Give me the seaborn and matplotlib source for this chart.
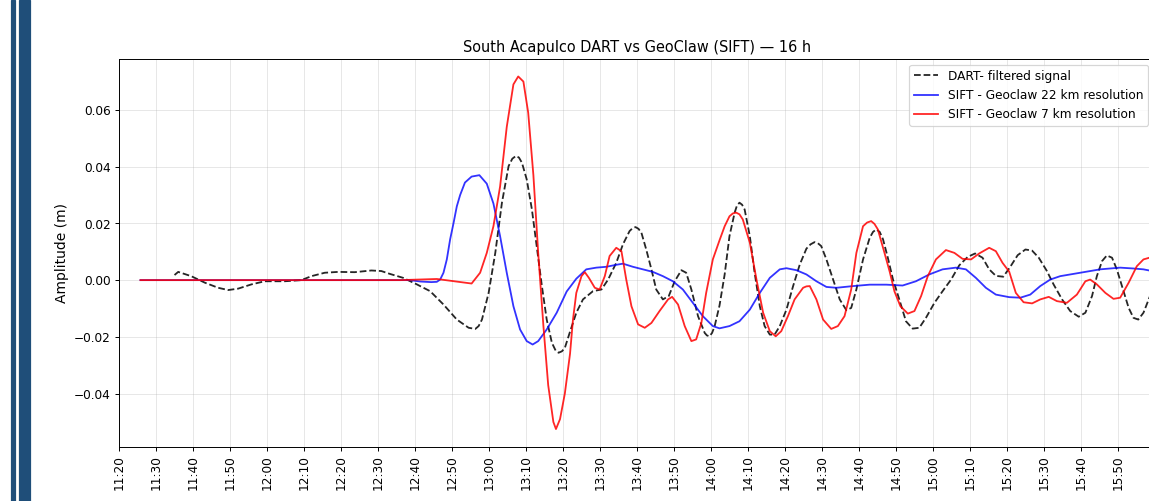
import pandas as pd
import seaborn as sns
import matplotlib.pyplot as plt
import matplotlib.dates as mdates
from matplotlib.patches import Rectangle

START = pd.Timestamp("2025-01-01 11:20")
END_MIN = 279.8  # just short of 16:00

# DART filtered signal (minutes after 11:20, amplitude m)
dart_min = [15.0, 16.0, 19.5, 23.2, 26.8, 29.5, 32.2, 35.8, 39.4, 44.8, 49.3, 52.0,
            55.6, 59.2, 63.7, 68.2, 70.9, 73.2, 76.8, 80.5, 84.1, 87.7, 91.3, 94.5,
            96.3, 97.2, 98.1, 99.9, 101.7, 103.5, 105.3, 106.3, 107.3, 108.1, 108.9,
            110.2, 111.6, 112.9, 114.3, 115.6, 117.0, 118.0, 118.8, 119.7, 120.5,
            121.8, 123.6, 125.4, 128.1, 130.4, 132.2, 134.4, 136.2, 138.0, 138.8,
            139.6, 140.4, 141.2, 142.5, 143.9, 145.2, 147.0, 148.6, 150.2, 152.0,
            153.3, 154.7, 156.5, 158.3, 158.9, 159.6, 160.3, 161.0, 162.3, 163.7,
            165.0, 166.4, 167.0, 167.7, 168.4, 169.1, 170.5, 171.8, 173.2, 174.5,
            175.9, 177.2, 178.6, 180.4, 182.2, 184.0, 185.8, 186.9, 188.0, 188.9,
            189.8, 191.2, 193.0, 194.8, 196.6, 197.9, 199.3, 201.1, 202.9, 203.8,
            204.7, 205.6, 206.5, 207.8, 209.2, 210.9, 212.7, 214.5, 216.3, 218.1,
            220.4, 222.6, 224.9, 227.1, 229.4, 231.4, 233.4, 235.2, 237.0, 239.0,
            240.8, 242.9, 245.0, 246.8, 248.6, 250.8, 252.6, 254.9, 257.1, 259.4,
            261.2, 263.0, 264.3, 265.7, 267.0, 268.4, 269.7, 271.1, 272.9, 274.2,
            275.5, 276.9, 278.5, 280.0]
dart_amp = [0.0018, 0.0029, 0.0014, -0.0009, -0.0027, -0.0035, -0.0030, -0.0015,
            -0.0004, -0.0004, 0.0000, 0.0014, 0.0026, 0.0029, 0.0028, 0.0034, 0.0032,
            0.0022, 0.0008, -0.0015, -0.0039, -0.0086, -0.0139, -0.0168, -0.0172,
            -0.0162, -0.0139, -0.0045, 0.0096, 0.0273, 0.0402, 0.0428, 0.0438, 0.0432,
            0.0414, 0.0355, 0.0249, 0.0120, -0.0021, -0.0139, -0.0221, -0.0248,
            -0.0256, -0.0251, -0.0239, -0.0186, -0.0115, -0.0068, -0.0039, -0.0033,
            0.0002, 0.0061, 0.0126, 0.0173, 0.0183, 0.0187, 0.0181, 0.0167, 0.0108,
            0.0038, -0.0033, -0.0068, -0.0056, -0.0004, 0.0035, 0.0026, -0.0033,
            -0.0127, -0.0186, -0.0195, -0.0198, -0.0186, -0.0162, -0.0090, 0.0020,
            0.0155, 0.0238, 0.0262, 0.0273, 0.0266, 0.0249, 0.0155, 0.0026, -0.0092,
            -0.0162, -0.0192, -0.0192, -0.0162, -0.0104, -0.0021, 0.0055, 0.0111,
            0.0126, 0.0134, 0.0130, 0.0120, 0.0073, 0.0002, -0.0068, -0.0106,
            -0.0098, -0.0033, 0.0073, 0.0149, 0.0170, 0.0179, 0.0170, 0.0144, 0.0079,
            0.0002, -0.0068, -0.0145, -0.0171, -0.0168, -0.0133, -0.0080, -0.0039,
            0.0002, 0.0052, 0.0082, 0.0094, 0.0079, 0.0038, 0.0015, 0.0012, 0.0045,
            0.0088, 0.0108, 0.0104, 0.0079, 0.0032, -0.0015, -0.0068, -0.0109,
            -0.0129, -0.0115, -0.0056, 0.0014, 0.0067, 0.0087, 0.0079, 0.0038,
            -0.0021, -0.0098, -0.0133, -0.0139, -0.0115, -0.0062, -0.0010]

# SIFT GeoClaw 22 km
g22_min = [5.8, 76.0, 78.6, 81.5, 84.4, 85.9, 86.8, 87.7, 88.6, 89.5, 90.4, 91.3,
           92.2, 93.5, 95.3, 97.4, 99.4, 101.2, 103.0, 104.8, 106.6, 108.4, 110.2,
           111.8, 113.3, 115.6, 118.3, 121.0, 123.6, 126.3, 129.0, 131.7, 134.4,
           136.2, 138.9, 141.6, 144.3, 147.0, 149.7, 152.4, 155.1, 157.8, 160.5,
           162.3, 165.0, 167.7, 170.5, 173.2, 175.9, 178.6, 180.4, 183.1, 185.8,
           188.5, 191.2, 193.9, 198.4, 202.9, 207.4, 211.8, 215.4, 219.0, 222.6,
           226.2, 228.9, 231.6, 234.3, 237.0, 240.6, 243.6, 246.3, 249.0, 251.7,
           254.4, 257.1, 259.8, 262.5, 265.2, 267.9, 270.6, 274.2, 276.9, 280.0]
g22_amp = [0.0, 0.0, 0.0, -0.0005, -0.0007, -0.0006, 0.0002, 0.0026, 0.0073,
           0.0144, 0.0200, 0.0260, 0.0300, 0.0344, 0.0365, 0.0370, 0.0340, 0.0270,
           0.0155, 0.0026, -0.0092, -0.0174, -0.0215, -0.0227, -0.0215, -0.0174,
           -0.0115, -0.0040, 0.0005, 0.0038, 0.0044, 0.0047, 0.0054, 0.0058, 0.0047,
           0.0038, 0.0029, 0.0014, -0.0004, -0.0033, -0.0080, -0.0127, -0.0162,
           -0.0170, -0.0162, -0.0145, -0.0104, -0.0045, 0.0008, 0.0038, 0.0042,
           0.0035, 0.0020, -0.0004, -0.0024, -0.0027, -0.0021, -0.0016, -0.0016,
           -0.0019, -0.0004, 0.0020, 0.0038, 0.0044, 0.0038, 0.0008, -0.0027,
           -0.0051, -0.0060, -0.0062, -0.0051, -0.0021, 0.0002, 0.0014, 0.0020,
           0.0026, 0.0032, 0.0038, 0.0041, 0.0044, 0.0041, 0.0038, 0.0030]

# SIFT GeoClaw 7 km
g7_min = [5.8, 76.0, 85.9, 95.3, 97.6, 99.4, 101.2, 103.0, 104.8, 106.6, 107.9,
          109.3, 110.6, 112.0, 113.3, 114.7, 116.0, 117.4, 118.1, 119.2, 120.5,
          121.9, 122.7, 123.6, 125.0, 125.9, 127.0, 128.6, 129.9, 131.3, 132.6,
          134.4, 135.8, 137.1, 138.5, 140.3, 142.1, 143.9, 146.1, 148.4, 149.5,
          151.1, 152.9, 154.7, 156.0, 157.4, 158.7, 160.5, 162.3, 163.7, 165.0,
          165.9, 166.8, 167.7, 168.6, 170.5, 172.3, 174.1, 175.9, 177.5, 179.0,
          180.8, 182.6, 184.9, 185.8, 186.7, 188.5, 190.3, 192.5, 194.3, 196.1,
          197.9, 199.3, 201.1, 202.2, 203.3, 204.2, 205.1, 206.9, 208.3, 209.6,
          211.2, 213.2, 215.0, 216.8, 218.6, 220.8, 223.5, 225.8, 228.0, 230.3,
          232.5, 235.2, 237.0, 238.8, 240.6, 242.4, 244.5, 246.8, 249.0, 251.3,
          253.5, 256.2, 258.9, 261.2, 262.5, 264.3, 266.6, 268.8, 270.6, 272.9,
          275.1, 276.9, 278.5, 280.0]
g7_amp = [0.0, 0.0, 0.0004, -0.0012, 0.0026, 0.0096, 0.0190, 0.0330, 0.0540,
          0.0690, 0.0718, 0.0700, 0.0590, 0.0370, 0.0096, -0.0160, -0.0370, -0.0500,
          -0.0525, -0.0490, -0.0400, -0.0260, -0.0139, -0.0045, 0.0014, 0.0028,
          0.0008, -0.0027, -0.0033, 0.0014, 0.0085, 0.0114, 0.0102, 0.0002, -0.0092,
          -0.0156, -0.0168, -0.0151, -0.0109, -0.0068, -0.0059, -0.0086, -0.0162,
          -0.0215, -0.0209, -0.0151, -0.0045, 0.0073, 0.0140, 0.0190, 0.0225,
          0.0235, 0.0238, 0.0232, 0.0214, 0.0132, 0.0002, -0.0115, -0.0180,
          -0.0198, -0.0180, -0.0127, -0.0068, -0.0027, -0.0022, -0.0021, -0.0068,
          -0.0139, -0.0172, -0.0162, -0.0127, -0.0033, 0.0096, 0.0190, 0.0203,
          0.0208, 0.0198, 0.0179, 0.0096, 0.0030, -0.0040, -0.0092, -0.0118,
          -0.0109, -0.0056, 0.0014, 0.0073, 0.0106, 0.0096, 0.0075, 0.0073, 0.0094,
          0.0114, 0.0102, 0.0061, 0.0030, -0.0045, -0.0078, -0.0082, -0.0068,
          -0.0059, -0.0074, -0.0080, -0.0051, -0.0004, 0.0002, -0.0015, -0.0045,
          -0.0066, -0.0062, -0.0009, 0.0049, 0.0073, 0.0079, 0.0085]


def to_time(mins):
    return START + pd.to_timedelta(mins, unit="min")


DPI = 87
fig = plt.figure(figsize=(1149.2 / DPI, 501.2 / DPI), dpi=DPI)
fig.patch.set_facecolor("white")

# slide decoration on the left edge
fig.patches.append(Rectangle((11 / 1149, 0), 4 / 1149, 1, transform=fig.transFigure,
                             color="#1f4e79", zorder=0))
fig.patches.append(Rectangle((18.5 / 1149, 0), 11.5 / 1149, 1, transform=fig.transFigure,
                             color="#1f4e79", zorder=0))

ax = fig.add_axes([119 / 1149, 1 - 446.7 / 501, 1035 / 1149, (446.7 - 59) / 501])

line_kw = dict(lw=1.5, solid_joinstyle="round", dash_joinstyle="round")
sns.lineplot(x=to_time(dart_min), y=dart_amp, ax=ax, color="k", linestyle="--",
             alpha=0.85, label="DART- filtered signal", **line_kw)
sns.lineplot(x=to_time(g22_min), y=g22_amp, ax=ax, color="blue",
             alpha=0.8, label="SIFT - Geoclaw 22 km resolution", **line_kw)
sns.lineplot(x=to_time(g7_min), y=g7_amp, ax=ax, color="red",
             alpha=0.85, label="SIFT - Geoclaw 7 km resolution", **line_kw)

ax.set_xlim(START, to_time(END_MIN))
ax.xaxis.set_major_locator(mdates.MinuteLocator(byminute=range(0, 60, 10)))
ax.xaxis.set_major_formatter(mdates.DateFormatter("%H:%M"))
plt.setp(ax.get_xticklabels(), rotation=90)

ax.set_title("South Acapulco DART vs GeoClaw (SIFT) \u2014 16 h", fontsize=12)
ax.set_ylabel("Amplitude (m)", fontsize=11.5)
ax.set_xlabel("")
ax.grid(True, alpha=0.3)
ax.legend(loc="upper right")

fig.savefig("out.png", dpi=DPI)
